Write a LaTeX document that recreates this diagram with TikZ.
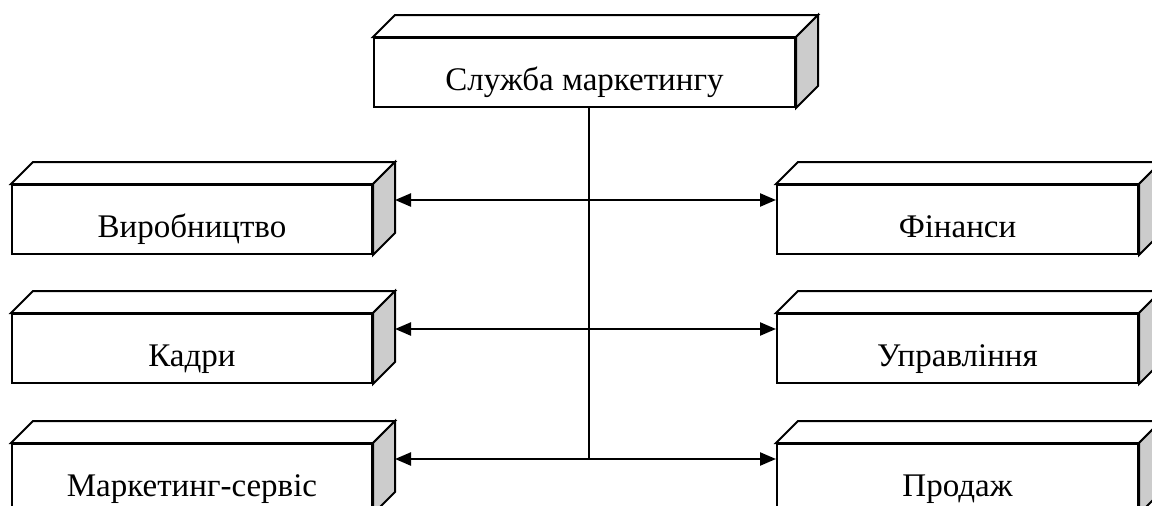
\documentclass[tikz,border=0pt]{standalone}
\usepackage{fontspec}
\setmainfont{Liberation Serif}
\usetikzlibrary{arrows.meta}
\definecolor{sidegray}{HTML}{CCCCCC}
\tikzset{
  face/.style={draw, line width=2pt, fill=white, minimum height=69pt, inner sep=0pt,
    text height=36pt, text depth=0pt, anchor=north west,
    font=\fontsize{33}{38}\selectfont},
  edge/.style={line width=2pt, line join=miter},
  link/.style={line width=2.3pt, {Triangle[length=16pt,width=13pt]}-{Triangle[length=16pt,width=13pt]}},
  vline/.style={line width=1.5pt},
}
\newcommand\boxfaces[1]{%
  \draw[edge, fill=white] (#1.north west) -- ++(22,-22) -- ([shift={(22,-22)}]#1.north east) -- (#1.north east) -- cycle;
  \draw[edge, fill=sidegray] (#1.north east) -- ++(22,-22) -- ([shift={(22,-22)}]#1.south east) -- (#1.south east) -- cycle;
}
\begin{document}
\begin{tikzpicture}[x=1pt, y=-1pt]
\useasboundingbox (0,0) rectangle (1152,506);
\clip (0,0) rectangle (1152,506);
\node[face, minimum width=421pt] (top) at (373,37) {Служба маркетингу};
\boxfaces{top}
\node[face, minimum width=360pt] (l1) at (11,184) {Виробництво};
\boxfaces{l1}
\node[face, minimum width=360pt] (l2) at (11,313) {Кадри};
\boxfaces{l2}
\node[face, minimum width=360pt] (l3) at (11,443) {Маркетинг-сервіс};
\boxfaces{l3}
\node[face, minimum width=361pt] (r1) at (776,184) {Фінанси};
\boxfaces{r1}
\node[face, minimum width=361pt] (r2) at (776,313) {Управління};
\boxfaces{r2}
\node[face, minimum width=361pt] (r3) at (776,443) {Продаж};
\boxfaces{r3}
\coordinate (a1) at ([shift={(22,-19.5)}]l1.east);
\coordinate (a2) at ([shift={(22,-19.5)}]l2.east);
\coordinate (a3) at ([shift={(22,-19.5)}]l3.east);
\draw[link] (a1) -- (a1 -| r1.west);
\draw[link] (a2) -- (a2 -| r2.west);
\draw[link] (a3) -- (a3 -| r3.west);
\coordinate (j) at ([xshift=4.5pt]top.south);
\draw[vline] (j) -- (j |- a3);
\end{tikzpicture}
\end{document}
